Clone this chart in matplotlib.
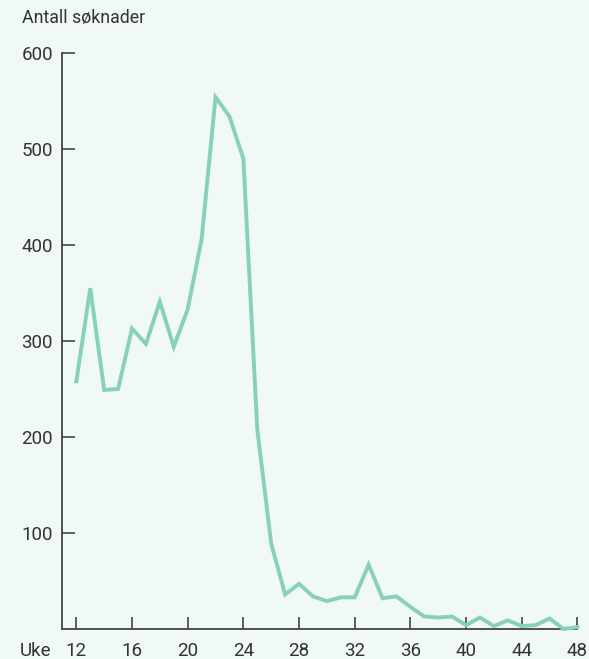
import matplotlib
matplotlib.use("Agg")
import matplotlib.pyplot as plt

weeks = list(range(12, 49))
applications = [258, 355, 249, 250, 313, 297, 341, 294, 333, 406,
                 554, 534, 490, 208, 89, 36, 47, 34, 29, 33,
                 33, 67, 32, 34, 23, 13, 12, 13, 4, 12,
                 3, 9, 3, 4, 11, 0, 2]
x_ticks = [12, 16, 20, 24, 28, 32, 36, 40, 44, 48]
y_ticks = [100, 200, 300, 400, 500, 600]
y_title = "Antall søknader"
x_title = "Uke"

bg = "#f0f9f5"
line_color = "#88d1b9"
text_color = "#333333"
axis_color = "#444444"

plt.rcParams['font.family'] = ['Roboto', 'DejaVu Sans']

fig = plt.figure(figsize=(5.89, 6.59), dpi=100)
fig.patch.set_facecolor(bg)
ax = fig.add_axes([62/589, 30/659, 515.4/589, 576/659])
ax.set_facecolor(bg)

ax.plot(weeks, applications, color=line_color, linewidth=2.8, solid_joinstyle='miter', clip_on=False, zorder=3)

ax.set_xlim(10.97, 48)
ax.set_ylim(0, 600)
ax.set_xticks(x_ticks)
ax.set_yticks(y_ticks)
for s in ['top', 'right']:
    ax.spines[s].set_visible(False)
for s in ['left', 'bottom']:
    ax.spines[s].set_color(axis_color)
    ax.spines[s].set_linewidth(1.3)
ax.tick_params(axis='both', direction='in', length=9, width=1.2, color=axis_color,
               labelcolor=text_color, labelsize=13.5)
ax.tick_params(axis='y', pad=6.5)
ax.tick_params(axis='x', pad=9.5)

fig.text(22/589, 1 - 18/659, y_title, fontsize=12.8, color=text_color, va='center', ha='left')
x_lbl = ax.get_xticklabels()[0]
fig.canvas.draw()
bb = x_lbl.get_window_extent()
fig.text(20/589, (bb.y0 + bb.y1) / 2 / fig.bbox.height, x_title, fontsize=13.5, color=text_color,
         va='center', ha='left')

fig.savefig("out.png", dpi=100, facecolor=bg)
